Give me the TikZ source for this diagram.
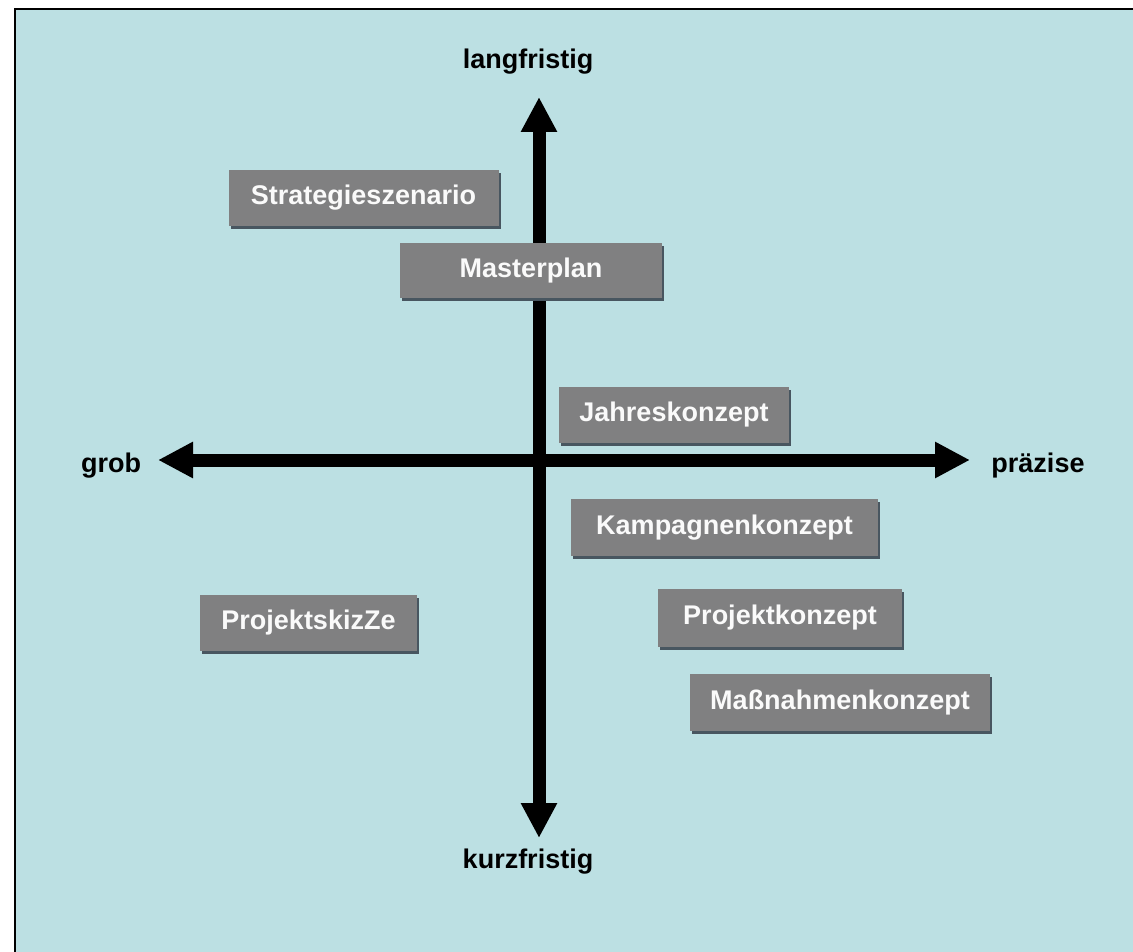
\documentclass[tikz,border=0pt]{standalone}
\usepackage{fontspec}
\setmainfont{Liberation Sans}
\usetikzlibrary{arrows.meta,shadows}
\definecolor{bgblue}{RGB}{188,224,227}
\definecolor{boxgray}{RGB}{128,128,129}
\definecolor{boxshadow}{RGB}{72,86,96}
\definecolor{txtwhite}{RGB}{250,250,250}
\tikzset{
  planbox/.style={fill=boxgray, inner sep=0pt, text=txtwhite,
    font=\fontsize{27}{31}\selectfont\bfseries,
    drop shadow={shadow xshift=2pt, shadow yshift=-3pt, fill=boxshadow, opacity=1}},
  axislabel/.style={inner sep=0pt, text=black, font=\fontsize{27}{31}\selectfont\bfseries},
  axisarrow/.style={line width=13pt,
    {Triangle[length=35pt,width=34pt]}-{Triangle[length=35pt,width=34pt]}}
}
\begin{document}
\begin{tikzpicture}[x=1pt,y=-1pt]
  % canvas
  \fill[white] (0,0) rectangle (1133,952);
  \useasboundingbox (0,0) rectangle (1133,952);
  \fill[bgblue] (15,9) rectangle (1133,952);
  \draw[black, line width=2pt] (15,952) -- (15,9) -- (1133,9);

  % axes
  \coordinate (top) at (539,97);
  \coordinate (bottom) at (539,838);
  \coordinate (left) at (158,460);
  \coordinate (right) at (970,460);
  \draw[axisarrow] (top) -- (bottom);
  \draw[axisarrow] (left) -- (right);

  % axis labels
  \node[axislabel] (lang) at (528,62) {langfristig};
  \node[axislabel] (kurz) at (528,862) {kurzfristig};
  \node[axislabel] (grob) at (111,466) {grob};
  \node[axislabel] (praez) at (1038,466) {präzise};

  % boxes
  \node[planbox, minimum width=270pt, minimum height=56pt] (strat) at (363.5,198) {Strategieszenario};
  \node[planbox, minimum width=262pt, minimum height=55pt] (master) at (531,270.5) {Masterplan};
  \node[planbox, minimum width=230pt, minimum height=56pt] (jahr) at (674,415) {Jahreskonzept};
  \node[planbox, minimum width=307pt, minimum height=57pt] (kamp) at (724.5,527.5) {Kampagnenkonzept};
  \node[planbox, minimum width=217pt, minimum height=56pt] (skizze) at (308.5,623) {ProjektskizZe};
  \node[planbox, minimum width=244pt, minimum height=58pt] (pkonz) at (780,618) {Projektkonzept};
  \node[planbox, minimum width=300pt, minimum height=57pt] (mass) at (840,702.5) {Maßnahmenkonzept};
\end{tikzpicture}
\end{document}
